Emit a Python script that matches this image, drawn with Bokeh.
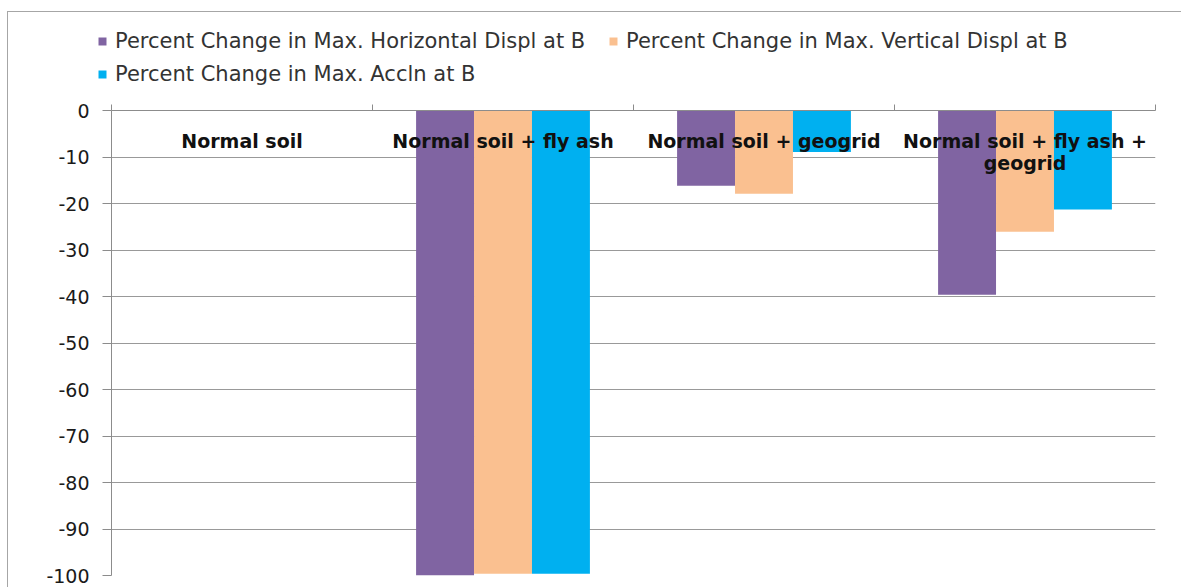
from bokeh.plotting import figure
from bokeh.layouts import column
from bokeh.models import (ColumnDataSource, Range1d, FixedTicker, LinearAxis,
                          Legend, LegendItem, CustomJSTickFormatter)
from bokeh.transform import dodge
from bokeh.core.properties import value
from bokeh.embed import file_html
from bokeh.resources import INLINE

# Soil treatments compared
categories = ["Normal soil", "Normal soil + fly ash", "Normal soil + geogrid",
              "Normal soil + fly ash +\ngeogrid"]

# Percent change relative to normal soil, response at point B
horiz_displ = [0.0, -100.0, -16.2, -39.6]
vert_displ = [0.0, -99.6, -17.9, -26.1]
accln = [0.0, -99.6, -8.9, -21.3]

series_names = ["Percent Change in Max. Horizontal Displ at B",
                "Percent Change in Max. Vertical Displ at B",
                "Percent Change in Max. Accln at B"]
series_colors = ["#8064A2", "#FAC090", "#00B0F0"]
series_cols = ["h", "v", "a"]

y_ticks = list(range(-100, 1, 10))

FONT = "DejaVu Sans"
BORDER = "1px solid #a6a6a6"
BAR_W = 0.222
OFFSETS = [-BAR_W, 0.0, BAR_W]

xs = [i + 0.5 for i in range(len(categories))]
src = ColumnDataSource(dict(x=xs, cat=categories, h=horiz_displ, v=vert_displ,
                            a=accln, zero=[0.0] * len(categories)))

# ---- legend strip -------------------------------------------------------
# Same bar renderers, but with a y range that keeps them out of view, so the
# strip only shows the legend built from them.
leg = figure(width=1174, height=80, output_backend="svg", toolbar_location=None,
             x_range=Range1d(0, len(categories)), y_range=Range1d(1, 2),
             min_border=0, min_border_left=0, min_border_right=0,
             min_border_top=0, min_border_bottom=0,
             x_axis_location=None, y_axis_location=None,
             outline_line_color=None, border_fill_color="white")
leg.frame_align = False
leg.xgrid.visible = False
leg.ygrid.visible = False
leg.margin = (11, 0, 0, 7)
leg.styles = {"border-left": BORDER, "border-top": BORDER}

swatches = [leg.vbar(x=dodge("x", off, range=leg.x_range), width=BAR_W,
                     top="zero", bottom=col, source=src, fill_color=c,
                     line_color=None)
            for col, off, c in zip(series_cols, OFFSETS, series_colors)]

legend = Legend(
    items=[LegendItem(label=n, renderers=[r]) for n, r in zip(series_names, swatches)],
    location=(89, 6), orientation="horizontal", ncols=2,
    glyph_width=10, glyph_height=10, label_standoff=8, spacing=9,
    padding=0, margin=0, label_height=20, label_width=484,
    label_text_font=FONT, label_text_font_size="21px", label_text_color="#333333",
    border_line_color=None, background_fill_alpha=0)
leg.add_layout(legend, "center")

# ---- bar chart ------------------------------------------------------------
p = figure(width=1174, height=496, output_backend="svg", toolbar_location=None,
           x_range=Range1d(0, len(categories)), y_range=Range1d(-100, 0),
           min_border_left=103, min_border_right=27, min_border_top=19,
           min_border_bottom=12, x_axis_location=None, y_axis_location=None,
           outline_line_color=None, background_fill_color="white",
           border_fill_color="white")
p.frame_align = False
p.margin = (0, 0, 0, 7)
p.styles = {"border-left": BORDER}

for col, off, color in zip(series_cols, OFFSETS, series_colors):
    p.vbar(x=dodge("x", off, range=p.x_range), width=BAR_W, top="zero",
           bottom=col, source=src, fill_color=color, line_color=None)

# Category names sit just under the zero line, in front of the bars
p.text(x="x", y="zero", text="cat", source=src, text_align="center",
       text_baseline="top", y_offset=19, text_font=value(FONT),
       text_font_style="bold", text_font_size="19px", text_color="#111111",
       text_line_height=1.0)

# Value axis
yaxis = LinearAxis(ticker=FixedTicker(ticks=y_ticks),
                   formatter=CustomJSTickFormatter(code="return tick.toFixed(0)"))
yaxis.axis_line_color = "#8c8c8c"
yaxis.major_tick_line_color = "#8c8c8c"
yaxis.major_tick_out = 9
yaxis.major_tick_in = 0
yaxis.minor_tick_line_color = None
yaxis.major_label_standoff = 13
yaxis.major_label_text_font = FONT
yaxis.major_label_text_font_size = "19px"
yaxis.major_label_text_color = "#1a1a1a"
p.add_layout(yaxis, "left")

# Category axis along the zero line: boundary ticks pointing up, no labels
# (the category names are drawn inside the plot instead)
xaxis = LinearAxis(ticker=FixedTicker(ticks=list(range(len(categories) + 1))),
                   major_label_overrides={k: "" for k in range(len(categories) + 1)})
xaxis.axis_line_color = "#8c8c8c"
xaxis.major_tick_line_color = "#8c8c8c"
xaxis.major_tick_out = 6
xaxis.major_tick_in = 0
xaxis.minor_tick_line_color = None
xaxis.major_label_standoff = 0
p.add_layout(xaxis, "above")

p.xgrid.visible = False
p.ygrid.ticker = FixedTicker(ticks=y_ticks)
p.ygrid.grid_line_color = "#999999"
p.ygrid.grid_line_width = 1

layout = column(leg, p, spacing=0)
open("out.html", "w").write(file_html(layout, INLINE))
